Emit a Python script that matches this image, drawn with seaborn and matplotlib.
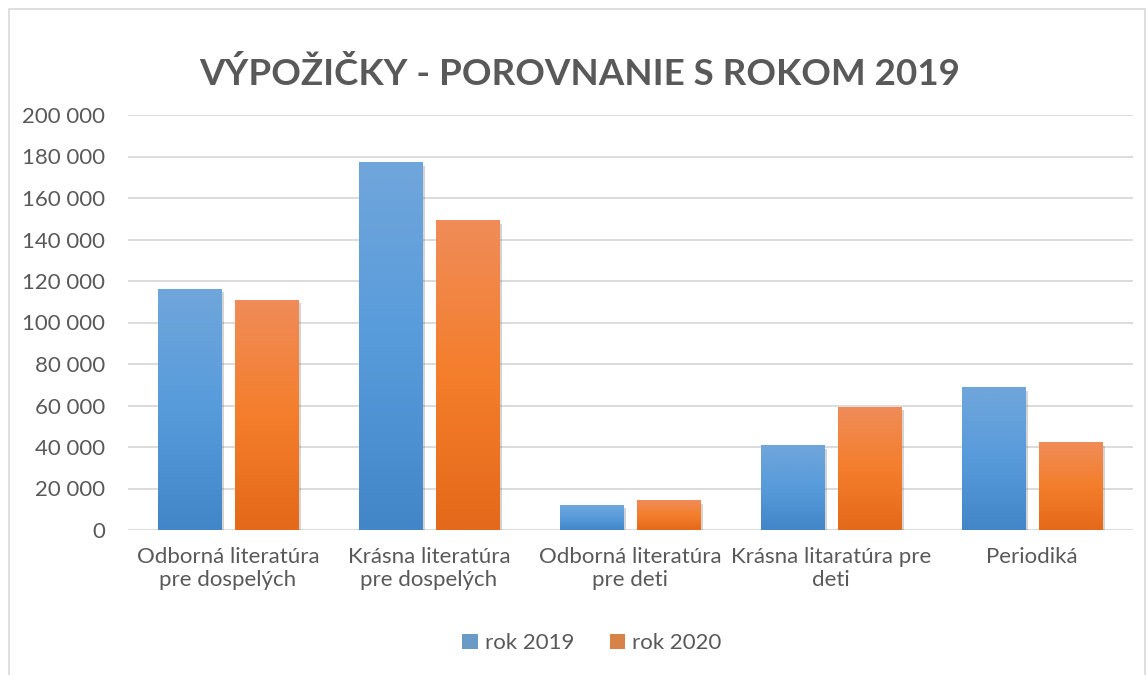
import numpy as np
import pandas as pd
import seaborn as sns
import matplotlib.pyplot as plt
import matplotlib.patheffects as pe
from matplotlib.colors import LinearSegmentedColormap
from matplotlib.patches import Rectangle
from matplotlib.ticker import FuncFormatter

# ---- data ----
categories = ["Odborná literatúra\npre dospelých", "Krásna literatúra\npre dospelých",
              "Odborná literatúra\npre deti", "Krásna litaratúra pre\ndeti", "Periodiká"]
rok_2019 = [116000, 177000, 12000, 40500, 68500]
rok_2020 = [110500, 149000, 14000, 59000, 42000]
series = ["rok 2019", "rok 2020"]

df = pd.DataFrame({
    "kategoria": categories * 2,
    "rok": [series[0]] * len(categories) + [series[1]] * len(categories),
    "hodnota": rok_2019 + rok_2020,
})

BLUE, ORANGE = "#5B9BD5", "#ED7D31"
GRAY = "#595959"
grad = {
    series[0]: LinearSegmentedColormap.from_list("b", ["#4386C8", "#579BDB", "#70A6DB"]),
    series[1]: LinearSegmentedColormap.from_list("o", ["#E4691A", "#F47E2B", "#F08C59"]),
}

sns.set_style("white")
plt.rcParams["font.family"] = ["Lato", "DejaVu Sans"]

fig = plt.figure(figsize=(11.47, 6.75), dpi=100)
ax = fig.add_axes([127.5 / 1147, 145 / 675, 1005 / 1147, 415 / 675])

sns.barplot(data=df, x="kategoria", y="hodnota", hue="rok", order=categories,
            palette=[BLUE, ORANGE], width=0.766, gap=0.18, ax=ax, legend=True,
            edgecolor="none", linewidth=0)

# gradient fill + soft shadow like Excel
ramp = np.linspace(0, 1, 256).reshape(-1, 1)
for cont, name in zip(ax.containers, series):
    for bar in cont:
        bar.set_path_effects([pe.SimplePatchShadow(offset=(2, -2), alpha=0.25, shadow_rgbFace="#555555"),
                              pe.Normal()])
        x0, y0 = bar.get_x(), bar.get_y()
        w, h = bar.get_width(), bar.get_height()
        ax.imshow(ramp, extent=[x0, x0 + w, y0, y0 + h], origin="lower",
                  cmap=grad[name], aspect="auto", zorder=bar.get_zorder() + 0.1)

ax.set_xlim(-0.5, len(categories) - 0.5)
ax.set_ylim(0, 200000)
ax.set_yticks(np.arange(0, 200001, 20000))
ax.yaxis.set_major_formatter(FuncFormatter(lambda v, p: f"{int(v):,}".replace(",", " ")))
ax.grid(axis="y", color="#D9D9D9", linewidth=1.3)
ax.set_axisbelow(True)
for s in ax.spines.values():
    s.set_visible(False)
ax.tick_params(axis="both", length=0, labelsize=16, labelcolor=GRAY)
ax.tick_params(axis="y", pad=16)
ax.tick_params(axis="x", pad=12)
ax.set_xlabel("")
ax.set_ylabel("")

handles, labels = ax.get_legend_handles_labels()
ax.get_legend().remove()
fig.legend(handles, labels, loc="center", bbox_to_anchor=(0.516, 0.047), ncol=2,
           frameon=False, fontsize=16, labelcolor=GRAY, handlelength=0.7,
           handleheight=0.7, handletextpad=0.3, columnspacing=1.6)

fig.text(0.505, (675 - 74) / 675, "VÝPOŽIČKY - POROVNANIE S ROKOM 2019", ha="center",
         va="center", fontsize=26.5, fontweight="bold", color=GRAY)

fig.patches.append(Rectangle((9 / 1147, -0.05), (1145 - 9) / 1147, (675 - 9) / 675 + 0.05,
                             transform=fig.transFigure, fill=False, edgecolor="#D9D9D9",
                             linewidth=1.2))

fig.savefig("out.png", dpi=100, facecolor="white")
